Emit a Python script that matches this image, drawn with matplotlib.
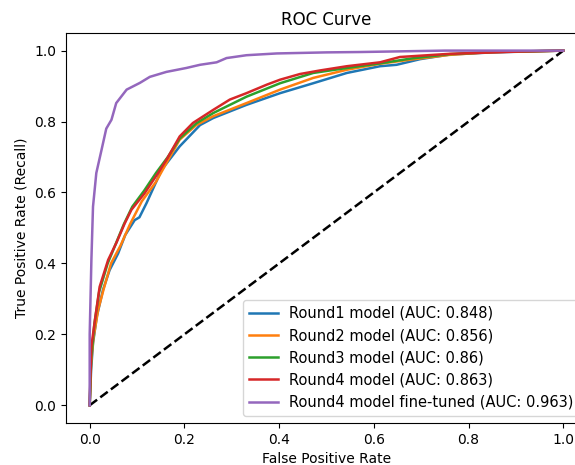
import matplotlib
matplotlib.use('Agg')
import matplotlib.pyplot as plt

# ROC points
fpr_r1 = [0, 0.003, 0.007, 0.015, 0.028, 0.042, 0.06, 0.075, 0.095, 0.105, 0.12, 0.152, 0.19, 0.233, 0.261,
          0.331, 0.402, 0.472, 0.543, 0.613, 0.648, 0.698, 0.761, 0.85, 1.0]
tpr_r1 = [0, 0.1, 0.175, 0.25, 0.325, 0.381, 0.428, 0.48, 0.522, 0.53, 0.57, 0.664, 0.73, 0.79, 0.81,
          0.847, 0.88, 0.908, 0.937, 0.956, 0.96, 0.976, 0.989, 0.995, 1.0]

fpr_r2 = [0, 0.003, 0.008, 0.018, 0.03, 0.045, 0.065, 0.085, 0.11, 0.14, 0.165, 0.19, 0.225, 0.261,
          0.331, 0.402, 0.472, 0.543, 0.613, 0.68, 0.76, 0.85, 1.0]
tpr_r2 = [0, 0.12, 0.19, 0.27, 0.33, 0.40, 0.45, 0.51, 0.575, 0.63, 0.69, 0.749, 0.79, 0.815,
          0.852, 0.89, 0.923, 0.946, 0.963, 0.975, 0.988, 0.996, 1.0]

fpr_r3 = [0, 0.003, 0.01, 0.02, 0.038, 0.055, 0.072, 0.09, 0.115, 0.14, 0.165, 0.19, 0.225, 0.261,
          0.331, 0.402, 0.472, 0.543, 0.613, 0.68, 0.76, 0.85, 1.0]
tpr_r3 = [0, 0.13, 0.23, 0.32, 0.40, 0.455, 0.51, 0.56, 0.605, 0.655, 0.70, 0.752, 0.795, 0.824,
          0.87, 0.908, 0.937, 0.951, 0.964, 0.978, 0.99, 0.996, 1.0]

fpr_r4 = [0, 0.002, 0.0035, 0.011, 0.021, 0.039, 0.056, 0.074, 0.088, 0.116, 0.144, 0.162, 0.19, 0.218,
          0.261, 0.296, 0.331, 0.374, 0.402, 0.444, 0.486, 0.543, 0.613, 0.655, 0.761, 0.9, 1.0]
tpr_r4 = [0, 0.1, 0.165, 0.24, 0.334, 0.41, 0.457, 0.513, 0.551, 0.598, 0.654, 0.692, 0.758, 0.796,
          0.833, 0.862, 0.88, 0.904, 0.918, 0.934, 0.944, 0.956, 0.967, 0.982, 0.991, 0.997, 1.0]

fpr_ft = [0, 0.0, 0.0036, 0.007, 0.014, 0.025, 0.035, 0.046, 0.056, 0.078, 0.106, 0.127, 0.162, 0.204,
          0.233, 0.268, 0.289, 0.331, 0.395, 0.5, 0.57, 0.75, 1.0]
tpr_ft = [0, 0.2, 0.41, 0.56, 0.655, 0.72, 0.78, 0.805, 0.852, 0.89, 0.909, 0.926, 0.94, 0.951,
          0.96, 0.967, 0.979, 0.987, 0.992, 0.995, 0.996, 1.0, 1.0]

labels = ["Round1 model", "Round2 model", "Round3 model", "Round4 model", "Round4 model fine-tuned"]
aucs = ["0.848", "0.856", "0.86", "0.863", "0.963"]

fig = plt.figure(figsize=(5.75, 4.65), dpi=100)
# axes run past the right edge, as in the cropped reference
ax = fig.add_axes([0.1148, 0.0903, 0.906, 0.839])

ax.plot([0, 1], [0, 1], 'k--', lw=1.8)
curves = [(fpr_r1, tpr_r1), (fpr_r2, tpr_r2), (fpr_r3, tpr_r3), (fpr_r4, tpr_r4), (fpr_ft, tpr_ft)]
for (f, t), lab, auc in zip(curves, labels, aucs):
    ax.plot(f, t, lw=1.8, label=lab + " (AUC: " + auc + ")")

ax.set_xlim(-0.05, 1.05)
ax.set_ylim(-0.05, 1.05)
ax.set_xlabel("False Positive Rate")
ax.set_ylabel("True Positive Rate (Recall)")
ax.set_title("ROC Curve")
ax.legend(loc='lower right', fontsize=10.5)

fig.savefig('out.png', dpi=100)
